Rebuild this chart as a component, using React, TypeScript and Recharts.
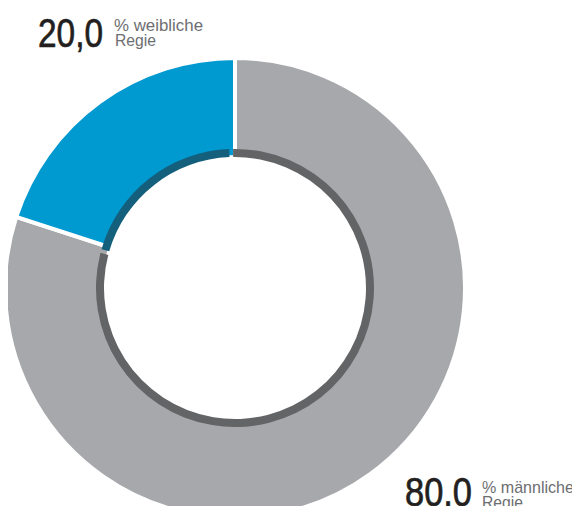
import { PieChart, Pie, Cell } from 'recharts';

// Anteil der Regie nach Geschlecht
const categories = ['männliche Regie', 'weibliche Regie'];
const shares = [80.0, 20.0];
const outerColors = ['#a7a8ab', '#0099d0'];
const innerColors = ['#636466', '#135f7c'];

const data = categories.map((name, i) => ({ name, value: shares[i] }));

const fmt = (v: number) => v.toFixed(1).replace('.', ',');
const font = '"Liberation Sans", Arial, sans-serif';

export default function App() {
  const cx = 235;
  const cy = 288;
  return (
    <div style={{ position: 'relative', width: 580, height: 514, margin: -8, background: '#fff' }}>
      <PieChart width={580} height={514} margin={{ top: 0, right: 0, bottom: 0, left: 0 }}>
        <Pie
          data={data}
          dataKey="value"
          cx={cx}
          cy={cy}
          startAngle={90}
          endAngle={-270}
          innerRadius={131}
          outerRadius={230}
          stroke="#fff"
          strokeWidth={4}
          isAnimationActive={false}
        >
          {data.map((d, i) => (
            <Cell key={d.name} fill={outerColors[i]} />
          ))}
        </Pie>
        <Pie
          data={data}
          dataKey="value"
          cx={cx}
          cy={cy}
          startAngle={90.8}
          endAngle={-269.2}
          paddingAngle={1.6}
          innerRadius={131}
          outerRadius={139}
          stroke="none"
          isAnimationActive={false}
        >
          {data.map((d, i) => (
            <Cell key={d.name} fill={innerColors[i]} />
          ))}
        </Pie>
      </PieChart>
      <svg width={580} height={514} style={{ position: 'absolute', left: 0, top: 0 }}>
        <text x={38} y={47} fontFamily={font} fontSize={41} fill="#231f20" stroke="#231f20" strokeWidth={0.7} textLength={65} lengthAdjust="spacingAndGlyphs">
          {fmt(shares[1])}
        </text>
        <text x={114} y={31} fontFamily={font} fontSize={17} fill="#6d6e71" textLength={89} lengthAdjust="spacingAndGlyphs">
          % weibliche
        </text>
        <text x={115} y={46} fontFamily={font} fontSize={17} fill="#6d6e71" textLength={41} lengthAdjust="spacingAndGlyphs">
          Regie
        </text>
        <text x={405} y={506} fontFamily={font} fontSize={41} fill="#231f20" stroke="#231f20" strokeWidth={0.7} textLength={67} lengthAdjust="spacingAndGlyphs">
          {fmt(shares[0])}
        </text>
        <text x={482} y={493} fontFamily={font} fontSize={17} fill="#6d6e71" textLength={92} lengthAdjust="spacingAndGlyphs">
          % männliche
        </text>
        <text x={482} y={508} fontFamily={font} fontSize={17} fill="#6d6e71" textLength={41} lengthAdjust="spacingAndGlyphs">
          Regie
        </text>
      </svg>
    </div>
  );
}
